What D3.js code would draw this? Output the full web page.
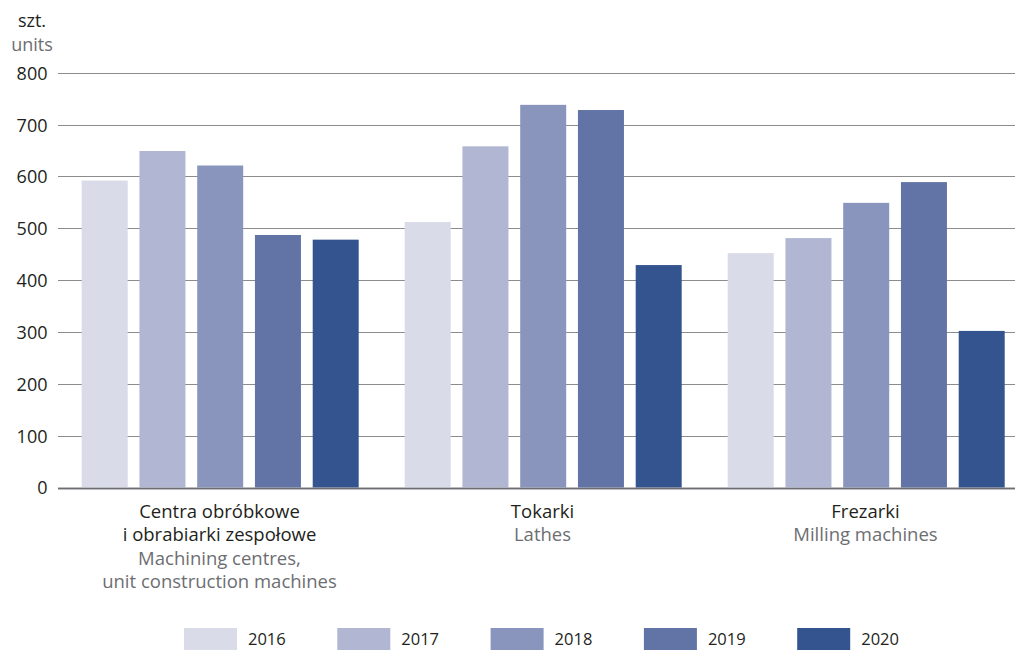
<!DOCTYPE html>
<html>
<head>
<meta charset="utf-8">
<script src="https://cdn.jsdelivr.net/npm/d3@7"></script>
<style>
  html, body { margin: 0; padding: 0; background: #fff; }
  svg { display: block; font-family: "Open Sans", "Noto Sans", sans-serif; }
</style>
</head>
<body>
<svg id="chart" width="1015" height="650"></svg>
<script>
const categories = ["centra", "tokarki", "frezarki"];
const labelsPL = [["Centra obróbkowe", "i obrabiarki zespołowe"], ["Tokarki"], ["Frezarki"]];
const labelsEN = [["Machining centres,", "unit construction machines"], ["Lathes"], ["Milling machines"]];
const years = ["2016", "2017", "2018", "2019", "2020"];
const values2016 = [592, 512, 452];
const values2017 = [649, 658, 481];
const values2018 = [621, 738, 549];
const values2019 = [487, 728, 589];
const values2020 = [478, 429, 302];
const yTicks = [0, 100, 200, 300, 400, 500, 600, 700, 800];
const colors = ["#d9dbe8", "#b1b6d3", "#8995bd", "#6174a5", "#34548f"];

const series = [values2016, values2017, values2018, values2019, values2020];

const svg = d3.select("#chart");

const y = d3.scaleLinear().domain([0, 800]).range([487.5, 72.7]);
const x0 = d3.scaleBand().domain(categories).range([58, 1027]).paddingInner(0).paddingOuter(0);
const x1 = d3.scaleBand().domain(years).range([23.7, 300.7]).paddingInner(0.2035).paddingOuter(0);
const color = d3.scaleOrdinal().domain(years).range(colors);

// y axis labels
const yAxis = d3.axisLeft(y).tickValues(yTicks).tickSize(0).tickPadding(0);
const gAxis = svg.append("g").attr("transform", "translate(47.5,0)").call(yAxis);
gAxis.select(".domain").remove();
gAxis.selectAll("text")
  .attr("font-size", 18)
  .attr("font-family", "'Open Sans', sans-serif")
  .attr("fill", "#231f20")
  .attr("dy", "0.36em");

// gridlines
svg.append("g").selectAll("line")
  .data(yTicks)
  .join("line")
  .attr("x1", 58).attr("x2", 1015)
  .attr("y1", d => Math.round(y(d)) + 0.5).attr("y2", d => Math.round(y(d)) + 0.5)
  .attr("stroke", d => d === 0 ? "#6d6e71" : "#8c8c8c")
  .attr("stroke-width", d => d === 0 ? 1.6 : 1.2);

// bars
const groups = svg.append("g").selectAll("g")
  .data(categories)
  .join("g")
  .attr("transform", d => `translate(${x0(d)},0)`);

groups.selectAll("rect")
  .data((d, i) => years.map((yr, j) => ({ yr, v: series[j][i] })))
  .join("rect")
  .attr("x", d => x1(d.yr))
  .attr("width", x1.bandwidth())
  .attr("y", d => y(d.v))
  .attr("height", d => y(0) - y(d.v))
  .attr("fill", d => color(d.yr));

// redraw baseline over bars
svg.append("line")
  .attr("x1", 58).attr("x2", 1015)
  .attr("y1", Math.round(y(0)) + 0.5).attr("y2", Math.round(y(0)) + 0.5)
  .attr("stroke", "#6d6e71").attr("stroke-width", 1.6);

// category labels
categories.forEach((c, i) => {
  const cx = x0(c) + x0.bandwidth() / 2;
  const lines = labelsPL[i].map(t => ({ t, fill: "#231f20" }))
    .concat(labelsEN[i].map(t => ({ t, fill: "#6d6e71" })));
  svg.append("g").selectAll("text")
    .data(lines)
    .join("text")
    .attr("x", cx)
    .attr("y", (d, k) => 518 + k * 23.4)
    .attr("text-anchor", "middle")
    .attr("font-size", 18.5)
    .attr("fill", d => d.fill)
    .text(d => d.t);
});

// unit labels
svg.append("text").attr("x", 32).attr("y", 27).attr("text-anchor", "middle")
  .attr("font-size", 18).attr("fill", "#231f20").text("szt.");
svg.append("text").attr("x", 32).attr("y", 50.5).attr("text-anchor", "middle")
  .attr("font-size", 18).attr("fill", "#6d6e71").text("units");

// legend
const legend = svg.append("g").selectAll("g")
  .data(years)
  .join("g")
  .attr("transform", (d, i) => `translate(${184 + i * 153.3},628)`);
legend.append("rect")
  .attr("width", 53).attr("height", 24)
  .attr("fill", d => color(d));
legend.append("text")
  .attr("x", 64).attr("y", 17)
  .attr("font-size", 16.5)
  .attr("fill", "#231f20")
  .text(d => d);
</script>
</body>
</html>
